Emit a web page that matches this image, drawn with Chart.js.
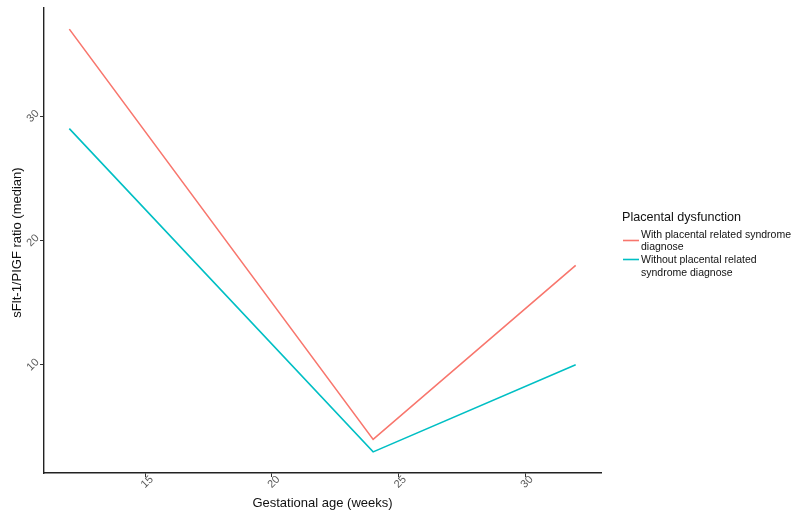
<!DOCTYPE html>
<html><head><meta charset="utf-8">
<script src="https://cdn.jsdelivr.net/npm/chart.js@4/dist/chart.umd.min.js"></script>
<style>html,body{margin:0;padding:0;background:#fff;overflow:hidden}</style>
</head>
<body>
<canvas id="c" width="798" height="514"></canvas>
<script>
const weeks = [12, 24, 32];
const withSyndrome = [37, 4, 18];
const withoutSyndrome = [29, 3, 10];
const seriesLabels = ["With placental related syndrome diagnose", "Without placental related syndrome diagnose"];
const seriesColors = ["#F8766D", "#00BFC4"];
const xTicks = [15, 20, 25, 30];
const yTicks = [10, 20, 30];
const xTitle = "Gestational age (weeks)";
const yTitle = "sFlt-1/PIGF ratio (median)";
const legendTitle = "Placental dysfunction";

const FONT = '"Liberation Sans", Arial, Helvetica, sans-serif';

function toPoints(vals){ return weeks.map((w,i)=>({x:w,y:vals[i]})); }

const drawText = {
  id: 'drawText',
  afterDraw(chart){
    const ctx = chart.ctx, xs = chart.scales.x, ys = chart.scales.y, ca = chart.chartArea;
    ctx.save();
    // tick labels
    ctx.font = '11px ' + FONT;
    ctx.fillStyle = '#5a5a5a';
    ctx.textAlign = 'center';
    ctx.textBaseline = 'middle';
    xs.ticks.forEach(t => {
      const px = xs.getPixelForValue(t.value);
      ctx.save();
      ctx.translate(px + 2, ca.bottom + 9);
      ctx.rotate(-Math.PI/4);
      ctx.fillText(String(t.value), 0, 0);
      ctx.restore();
    });
    ys.ticks.forEach(t => {
      const py = ys.getPixelForValue(t.value);
      ctx.save();
      ctx.translate(ca.left - 11, py);
      ctx.rotate(-Math.PI/4);
      ctx.fillText(String(t.value), 0, 0);
      ctx.restore();
    });
    // axis titles
    ctx.font = '13px ' + FONT;
    ctx.fillStyle = '#111';
    ctx.fillText(xTitle, (ca.left + ca.right)/2, 503);
    ctx.save();
    ctx.translate(17, (ca.top + ca.bottom)/2 + 2);
    ctx.rotate(-Math.PI/2);
    ctx.fillText(yTitle, 0, 0);
    ctx.restore();
    // legend
    ctx.textAlign = 'left';
    ctx.font = '12.6px ' + FONT;
    ctx.fillText(legendTitle, 622, 218);
    ctx.font = '10.5px ' + FONT;
    const keyY = [240.5, 259.5];
    const lineH = 12.6;
    let y0 = 235;
    chart.data.datasets.forEach((ds, i) => {
      const words = ds.label.split(' ');
      const lines = [];
      let cur = '';
      words.forEach(w => {
        const test = cur ? cur + ' ' + w : w;
        if (ctx.measureText(test).width > 154 && cur) { lines.push(cur); cur = w; }
        else cur = test;
      });
      if (cur) lines.push(cur);
      ctx.strokeStyle = ds.borderColor;
      ctx.lineWidth = 1.6;
      ctx.beginPath();
      ctx.moveTo(623, keyY[i]);
      ctx.lineTo(639, keyY[i]);
      ctx.stroke();
      ctx.fillStyle = '#111';
      lines.forEach((l, j) => ctx.fillText(l, 641, y0 + j*lineH));
      y0 += lines.length * lineH + 0.4;
    });
    ctx.restore();
  }
};

new Chart(document.getElementById('c'), {
  type: 'line',
  data: {
    datasets: [
      { label: seriesLabels[0], data: toPoints(withSyndrome), borderColor: seriesColors[0], backgroundColor: seriesColors[0], borderWidth: 1.6, pointRadius: 0, tension: 0, fill: false },
      { label: seriesLabels[1], data: toPoints(withoutSyndrome), borderColor: seriesColors[1], backgroundColor: seriesColors[1], borderWidth: 1.6, pointRadius: 0, tension: 0, fill: false }
    ]
  },
  options: {
    responsive: false,
    animation: false,
    layout: { padding: { left: 0, top: 8, right: 197, bottom: 0 } },
    plugins: { legend: { display: false }, tooltip: { enabled: false } },
    scales: {
      x: {
        type: 'linear', min: 11, max: 33,
        afterBuildTicks: s => { s.ticks = xTicks.map(v => ({ value: v })); },
        afterFit: s => { s.height = 41; },
        ticks: { display: false },
        grid: { display: true, drawOnChartArea: false, drawTicks: true, tickLength: 4, color: '#333', lineWidth: 1 },
        border: { display: true, color: '#222', width: 1.4 }
      },
      y: {
        type: 'linear', min: 1.3, max: 38.7,
        afterBuildTicks: s => { s.ticks = yTicks.map(v => ({ value: v })); },
        afterFit: s => { s.width = 44; },
        ticks: { display: false },
        grid: { display: true, drawOnChartArea: false, drawTicks: true, tickLength: 4, color: '#333', lineWidth: 1 },
        border: { display: true, color: '#222', width: 1.4 }
      }
    }
  },
  plugins: [drawText]
});
</script>
</body></html>
